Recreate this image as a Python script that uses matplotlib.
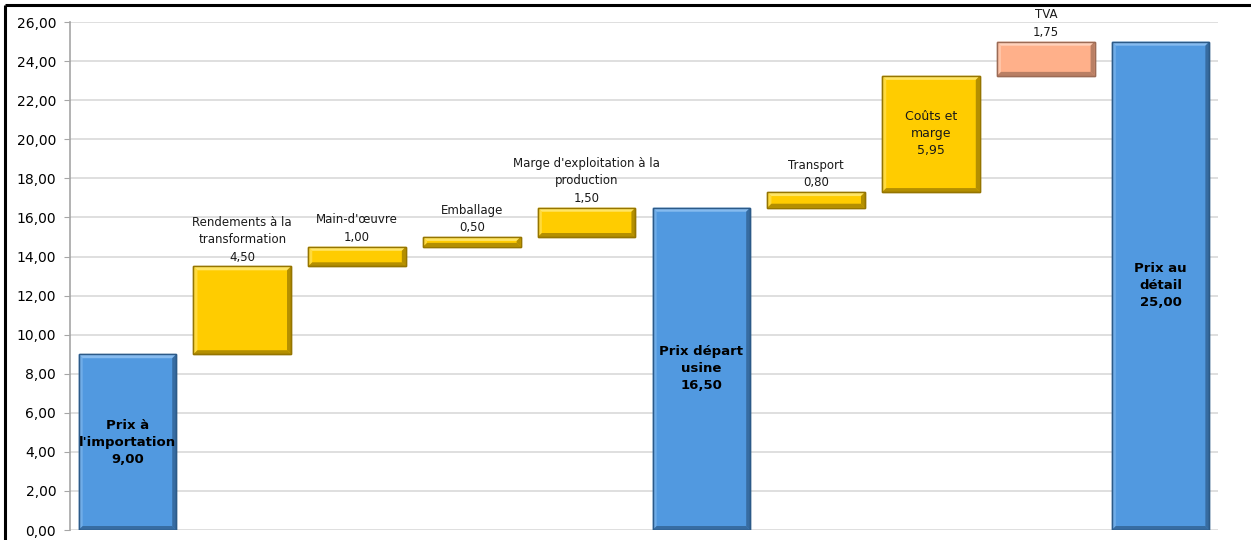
import matplotlib.pyplot as plt
from matplotlib.patches import Polygon, Rectangle
from matplotlib.lines import Line2D

# Data
labels = ["Prix à\nl'importation", "Rendements à la\ntransformation", "Main-d'œuvre", "Emballage",
          "Marge d'exploitation à la\nproduction", "Prix départ\nusine", "Transport",
          "Coûts et\nmarge", "TVA", "Prix au\ndétail"]
values = [9.00, 4.50, 1.00, 0.50, 1.50, 16.50, 0.80, 5.95, 1.75, 25.00]
kinds = ["total", "step", "step", "step", "step", "total", "step", "inside", "tax", "total"]

colors = {
    "total": ("#5199E0", "#86BBEF", "#2C5A88"),
    "step": ("#FFCC00", "#FFE566", "#957500"),
    "inside": ("#FFCC00", "#FFE566", "#957500"),
    "tax": ("#FFB08A", "#FFD2BC", "#9C6B55"),
}

fig = plt.figure(figsize=(12.51, 5.40), dpi=100)
ax = fig.add_axes([0.056, 0.0185, 0.9176, 0.9405])

# frame around the chart (only top and left visible)
fx, fy = 5 / 1251, 1 - 5 / 540
fig.lines.append(Line2D([fx, 1.01], [fy, fy], transform=fig.transFigure,
                        color="black", linewidth=2.2, solid_capstyle="butt"))
fig.lines.append(Line2D([fx, fx], [-0.01, fy], transform=fig.transFigure,
                        color="black", linewidth=2.2, solid_capstyle="butt"))

ax.set_xlim(-0.5, 9.5)
ax.set_ylim(0, 26)
ax.set_yticks(range(0, 27, 2))
ax.set_yticklabels([f"{v:.2f}".replace(".", ",") for v in range(0, 27, 2)], fontsize=10)
ax.set_xticks([])
ax.grid(axis="y", color="#D9D9D9", linewidth=1.2)
ax.set_axisbelow(True)
for s in ["top", "right", "bottom"]:
    ax.spines[s].set_visible(False)
ax.spines["left"].set_color("#A6A6A6")
ax.spines["left"].set_linewidth(1.2)
ax.tick_params(axis="y", length=4, color="#A6A6A6", pad=6)

width = 0.85
bx = 4 / 114.8   # bevel size in x units (~4 px)
by = 4 / 19.54   # bevel size in y units (~4 px)

base = 0.0
for i, (lab, val, kind) in enumerate(zip(labels, values, kinds)):
    if kind == "total":
        bottom = 0.0
        top = val
        base = val
    else:
        bottom = base
        top = base + val
        base = top
    face, light, dark = colors[kind]
    ax.bar(i, top - bottom, bottom=bottom, width=width, color=face,
           edgecolor=dark, linewidth=1.0, zorder=2)
    x0, x1 = i - width / 2, i + width / 2
    b = min(by, (top - bottom) / 2.5)
    # bevel: top light, left light, right and bottom dark
    ax.add_patch(Polygon([(x0, top), (x1, top), (x1 - bx, top - b), (x0 + bx, top - b)],
                         closed=True, facecolor=light, edgecolor="none", zorder=3))
    ax.add_patch(Polygon([(x0, top), (x0 + bx, top - b), (x0 + bx, bottom + b), (x0, bottom)],
                         closed=True, facecolor=light, edgecolor="none", alpha=0.6, zorder=3))
    ax.add_patch(Polygon([(x1, top), (x1, bottom), (x1 - bx, bottom + b), (x1 - bx, top - b)],
                         closed=True, facecolor=dark, edgecolor="none", alpha=0.7, zorder=3))
    ax.add_patch(Polygon([(x0, bottom), (x1, bottom), (x1 - bx, bottom + b), (x0 + bx, bottom + b)],
                         closed=True, facecolor=dark, edgecolor="none", alpha=0.7, zorder=3))
    ax.add_patch(Rectangle((x0, bottom), width, top - bottom, fill=False,
                           edgecolor=dark, linewidth=1.0, zorder=4))

    txt = lab + "\n" + f"{val:.2f}".replace(".", ",")
    if kind == "total":
        ax.text(i, (bottom + top) / 2, txt, ha="center", va="center", fontsize=9.5,
                fontweight="bold", color="black", linespacing=1.4, zorder=5)
    elif kind == "inside":
        ax.text(i, (bottom + top) / 2, txt, ha="center", va="center", fontsize=9,
                color="#1A1A1A", linespacing=1.4, zorder=5)
    else:
        ax.annotate(txt, (i, top), xytext=(0, 2), textcoords="offset points",
                    ha="center", va="bottom", fontsize=8.5, color="#1A1A1A",
                    linespacing=1.45, zorder=5)

fig.savefig("out.png", dpi=100)
